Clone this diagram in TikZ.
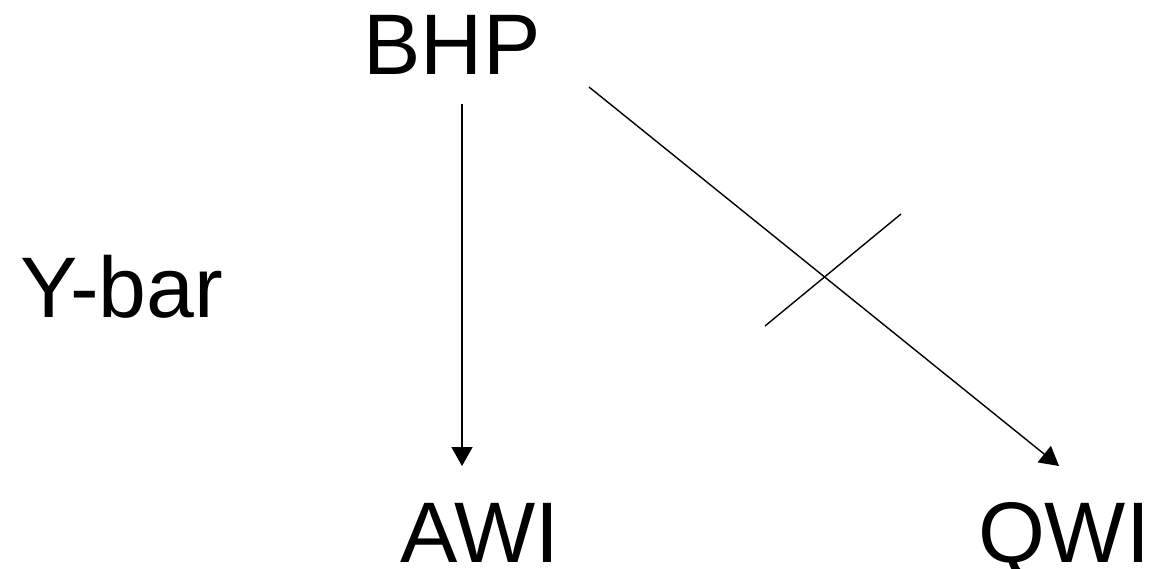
\documentclass[tikz,border=0pt]{standalone}
\usepackage{fontspec}
\setmainfont{Liberation Sans}
\usetikzlibrary{arrows.meta}
\begin{document}
\begin{tikzpicture}[x=1pt,y=-1pt,
  lbl/.style={inner sep=0pt,anchor=base,text depth=0pt,font=\fontsize{86}{98}\selectfont},
  conn/.style={line width=1.4pt,-{Triangle[width=21pt,length=19pt]}},
  bar/.style={line width=1.4pt}]
\useasboundingbox[fill=white] (0,0) rectangle (1153,568);
\node[lbl] (BHP) at (452,74) {BHP};
\node[lbl] (AWI) at (480,562) {AWI};
\node[lbl] (QWI) at (1064,562) {QWI};
\node[lbl] (YBAR) at (122,317) {Y-bar};
\coordinate (s1) at (462,104);
\coordinate (e1) at (462,466);
\coordinate (s2) at (589,87);
\coordinate (e2) at (1059,466);
\coordinate (c1) at (765,326);
\coordinate (c2) at (901,214);
\draw[conn] (s1) -- (e1);
\draw[conn] (s2) -- (e2);
\draw[bar] (c1) -- (c2);
\end{tikzpicture}
\end{document}
